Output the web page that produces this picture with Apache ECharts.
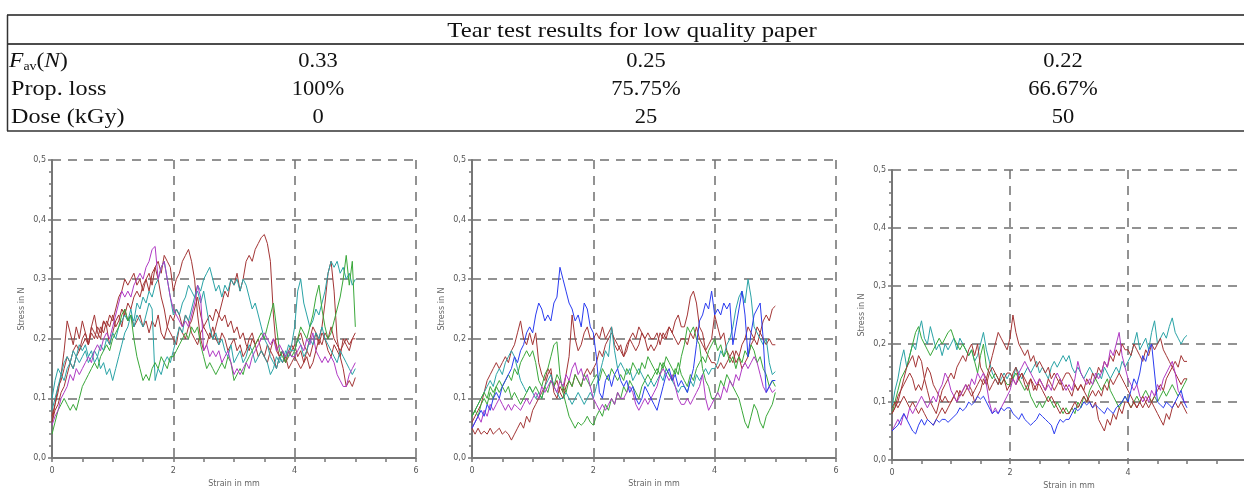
<!DOCTYPE html>
<html><head><meta charset="utf-8">
<script src="https://cdn.jsdelivr.net/npm/echarts@6/dist/echarts.min.js"></script>
<style>html,body{margin:0;padding:0;background:#fff}#c{width:1244px;height:489px}</style>
</head><body><div id="c"></div>
<script>
// ---------- Table data ----------
const tableTitle = 'Tear test results for low quality paper';
const rowLabels = ['F_av(N)', 'Prop. loss', 'Dose (kGy)'];
const fAv = ['0.33', '0.25', '0.22'];
const propLoss = ['100%', '75.75%', '66.67%'];
const dose = ['0', '25', '50'];

// ---------- Axis ticks ----------
const xTicks = [0, 2, 4, 6];
const yTicks = [0, 0.1, 0.2, 0.3, 0.4, 0.5];
const xName = 'Strain in mm';
const yName = 'Stress in N';
const STEP = 0.05; // strain sampling step (mm), curves sampled 0..5 mm

// ---------- Chart 1 (0 kGy) ----------
const c1BrownA = [0.07,0.09,0.11,0.14,0.18,0.23,0.21,0.19,0.22,0.20, 0.23,0.21,0.19,0.22,0.24,0.21,0.20,0.23,0.22,0.19, 0.21,0.23,0.24,0.22,0.25,0.23,0.24,0.22,0.23,0.24, 0.22,0.23,0.21,0.23,0.22,0.24,0.21,0.20,0.22,0.24, 0.23,0.25,0.24,0.22,0.24,0.23,0.21,0.20,0.19,0.21, 0.22,0.23,0.24,0.23,0.25,0.24,0.23,0.24,0.22,0.23, 0.21,0.22,0.20,0.21,0.19,0.18,0.20,0.19,0.17,0.18, 0.17,0.16,0.18,0.17,0.15,0.17,0.18,0.16,0.17,0.18, 0.19,0.17,0.18,0.16,0.17,0.15,0.16,0.18,0.20,0.19, 0.21,0.20,0.22,0.20,0.19,0.18,0.19,0.20,0.19,0.20, 0.21];
const c1BrownB = [0.06,0.08,0.09,0.11,0.12,0.14,0.16,0.15,0.17,0.18, 0.19,0.20,0.19,0.21,0.20,0.22,0.21,0.23,0.22,0.24, 0.23,0.25,0.27,0.28,0.30,0.29,0.30,0.31,0.29,0.30, 0.28,0.30,0.31,0.29,0.32,0.33,0.31,0.34,0.33,0.32, 0.28,0.30,0.31,0.33,0.34,0.35,0.33,0.30,0.24,0.20, 0.18,0.19,0.21,0.20,0.22,0.24,0.26,0.28,0.27,0.30, 0.29,0.31,0.28,0.30,0.33,0.34,0.33,0.35,0.36,0.37, 0.375,0.36,0.33,0.24,0.18,0.17,0.16,0.17,0.15,0.16, 0.17,0.16,0.15,0.16,0.18,0.17,0.19,0.21,0.20,0.22, 0.26,0.31,0.33,0.28,0.20,0.17,0.15,0.12,0.13,0.12, 0.135];
const c1BrownC = [0.06,0.09,0.12,0.13,0.15,0.17,0.16,0.18,0.19,0.18, 0.20,0.21,0.19,0.22,0.21,0.20,0.22,0.21,0.23,0.22, 0.24,0.22,0.23,0.25,0.24,0.26,0.25,0.27,0.28,0.27, 0.29,0.30,0.28,0.31,0.32,0.30,0.27,0.25,0.22,0.21, 0.20,0.19,0.22,0.21,0.20,0.22,0.23,0.25,0.27,0.24, 0.22,0.21,0.20,0.22,0.20,0.19,0.21,0.20,0.18,0.19, 0.20,0.18,0.19,0.17,0.18,0.20,0.21,0.19,0.20,0.18, 0.17,0.19,0.18,0.20,0.19,0.17,0.18,0.16,0.18,0.19, 0.18,0.20,0.21,0.19,0.18,0.20,0.22,0.21,0.19,0.21, 0.20,0.18,0.17,0.19,0.18,0.17,0.20,0.19,0.18,0.20, 0.20];
const c1TealA = [0.10,0.13,0.15,0.14,0.16,0.17,0.16,0.18,0.17,0.19, 0.18,0.19,0.17,0.18,0.16,0.17,0.15,0.16,0.14,0.15, 0.13,0.15,0.17,0.19,0.21,0.22,0.24,0.23,0.26,0.25, 0.27,0.26,0.28,0.27,0.29,0.30,0.32,0.33,0.30,0.27, 0.24,0.25,0.24,0.26,0.27,0.29,0.28,0.27,0.29,0.28, 0.30,0.31,0.32,0.30,0.28,0.29,0.27,0.29,0.28,0.30, 0.29,0.30,0.28,0.30,0.29,0.27,0.25,0.26,0.24,0.22, 0.20,0.19,0.17,0.16,0.15,0.17,0.16,0.18,0.17,0.19, 0.22,0.28,0.30,0.26,0.24,0.22,0.23,0.25,0.24,0.26, 0.28,0.31,0.33,0.32,0.33,0.31,0.32,0.30,0.31,0.29, 0.30];
const c1TealB = [0.08,0.10,0.12,0.14,0.13,0.15,0.16,0.15,0.17,0.16, 0.17,0.18,0.16,0.17,0.18,0.17,0.19,0.18,0.20,0.19, 0.21,0.20,0.22,0.23,0.24,0.23,0.25,0.22,0.24,0.23, 0.22,0.24,0.26,0.25,0.13,0.15,0.14,0.16,0.17,0.16, 0.18,0.20,0.22,0.21,0.24,0.23,0.25,0.27,0.28,0.26, 0.28,0.25,0.22,0.20,0.21,0.19,0.20,0.18,0.17,0.19, 0.16,0.17,0.18,0.16,0.17,0.19,0.18,0.16,0.17,0.18, 0.17,0.16,0.14,0.15,0.17,0.16,0.18,0.17,0.19,0.18, 0.18,0.20,0.19,0.17,0.18,0.20,0.19,0.21,0.20,0.22, 0.20,0.19,0.18,0.17,0.16,0.18,0.17,0.16,0.15,0.14, 0.15];
const c1Green = [0.04,0.06,0.08,0.09,0.10,0.09,0.08,0.09,0.08,0.10, 0.12,0.13,0.14,0.15,0.16,0.15,0.17,0.18,0.19,0.18, 0.20,0.21,0.22,0.24,0.25,0.23,0.24,0.20,0.17,0.15, 0.13,0.14,0.13,0.15,0.16,0.15,0.17,0.16,0.15,0.17, 0.17,0.18,0.19,0.20,0.21,0.20,0.22,0.21,0.22,0.19, 0.17,0.15,0.16,0.15,0.14,0.15,0.16,0.15,0.17,0.16, 0.13,0.14,0.15,0.14,0.16,0.17,0.18,0.19,0.20,0.21, 0.20,0.22,0.24,0.26,0.22,0.18,0.17,0.16,0.18,0.17, 0.18,0.20,0.22,0.21,0.20,0.22,0.24,0.27,0.29,0.25, 0.22,0.20,0.21,0.23,0.25,0.27,0.30,0.34,0.29,0.33, 0.22];
const c1Magenta = [0.055,0.07,0.08,0.10,0.11,0.12,0.14,0.13,0.15,0.14, 0.15,0.16,0.17,0.16,0.18,0.19,0.18,0.20,0.21,0.20, 0.22,0.24,0.26,0.28,0.27,0.28,0.27,0.29,0.30,0.31, 0.30,0.32,0.33,0.35,0.355,0.30,0.32,0.33,0.30,0.27, 0.25,0.24,0.23,0.22,0.23,0.22,0.24,0.26,0.29,0.27, 0.18,0.19,0.17,0.18,0.17,0.18,0.16,0.17,0.18,0.16, 0.14,0.15,0.14,0.15,0.16,0.15,0.17,0.18,0.19,0.20, 0.21,0.20,0.19,0.20,0.18,0.19,0.18,0.17,0.18,0.17, 0.17,0.18,0.19,0.18,0.20,0.19,0.21,0.18,0.17,0.16, 0.17,0.16,0.17,0.16,0.14,0.13,0.12,0.12,0.14,0.15, 0.16];

// ---------- Chart 2 (25 kGy) ----------
const c2Blue = [0.05,0.06,0.07,0.08,0.07,0.09,0.08,0.10,0.11,0.10, 0.12,0.13,0.14,0.15,0.17,0.16,0.18,0.19,0.21,0.22, 0.21,0.24,0.26,0.25,0.23,0.24,0.23,0.26,0.27,0.32, 0.30,0.28,0.26,0.25,0.23,0.24,0.22,0.26,0.25,0.22, 0.21,0.17,0.11,0.10,0.13,0.14,0.12,0.14,0.15,0.13, 0.12,0.13,0.11,0.12,0.10,0.09,0.10,0.12,0.11,0.10, 0.09,0.08,0.10,0.12,0.14,0.15,0.13,0.14,0.12,0.13, 0.12,0.11,0.13,0.15,0.19,0.23,0.24,0.26,0.25,0.28, 0.24,0.25,0.24,0.26,0.25,0.26,0.19,0.22,0.25,0.28, 0.24,0.17,0.21,0.24,0.25,0.26,0.20,0.11,0.12,0.13, 0.13];
const c2BrownA = [0.05,0.04,0.05,0.04,0.045,0.04,0.05,0.04,0.045,0.05, 0.04,0.045,0.04,0.03,0.04,0.05,0.06,0.05,0.07,0.06, 0.08,0.09,0.10,0.11,0.12,0.14,0.15,0.11,0.10,0.12, 0.11,0.14,0.17,0.24,0.20,0.18,0.19,0.21,0.22,0.20, 0.20,0.21,0.20,0.22,0.20,0.21,0.22,0.19,0.18,0.19, 0.17,0.19,0.20,0.21,0.20,0.22,0.21,0.20,0.21,0.20, 0.20,0.21,0.19,0.21,0.20,0.22,0.21,0.23,0.24,0.22, 0.22,0.24,0.27,0.28,0.26,0.22,0.21,0.18,0.19,0.20, 0.24,0.22,0.20,0.21,0.18,0.17,0.18,0.16,0.17,0.15, 0.16,0.17,0.19,0.20,0.22,0.21,0.23,0.24,0.23,0.25, 0.255];
const c2BrownB = [0.06,0.07,0.08,0.09,0.11,0.13,0.14,0.15,0.16,0.15, 0.16,0.17,0.16,0.18,0.19,0.21,0.23,0.20,0.19,0.21, 0.19,0.21,0.16,0.14,0.13,0.15,0.14,0.12,0.13,0.11, 0.10,0.12,0.13,0.12,0.14,0.13,0.12,0.14,0.15,0.14, 0.15,0.16,0.18,0.17,0.19,0.20,0.21,0.20,0.19,0.18, 0.17,0.18,0.20,0.19,0.18,0.19,0.21,0.20,0.18,0.19, 0.18,0.19,0.21,0.20,0.21,0.22,0.21,0.20,0.19,0.20, 0.20,0.19,0.21,0.20,0.22,0.20,0.19,0.18,0.17,0.16, 0.16,0.15,0.16,0.15,0.16,0.17,0.16,0.18,0.17,0.19, 0.20,0.22,0.21,0.20,0.19,0.21,0.20,0.19,0.20,0.19, 0.19];
const c2Teal = [0.07,0.08,0.09,0.10,0.11,0.12,0.13,0.12,0.14,0.15, 0.14,0.16,0.17,0.18,0.17,0.15,0.13,0.12,0.11,0.12, 0.11,0.10,0.11,0.10,0.12,0.13,0.14,0.12,0.11,0.10, 0.10,0.11,0.10,0.09,0.10,0.11,0.10,0.09,0.10,0.11, 0.10,0.12,0.14,0.16,0.18,0.17,0.22,0.18,0.15,0.16, 0.15,0.14,0.15,0.13,0.14,0.15,0.14,0.13,0.12,0.13, 0.12,0.13,0.14,0.13,0.15,0.14,0.13,0.12,0.11,0.12, 0.12,0.11,0.13,0.12,0.14,0.13,0.14,0.15,0.14,0.15, 0.15,0.16,0.18,0.17,0.19,0.20,0.22,0.25,0.27,0.28, 0.26,0.30,0.27,0.22,0.21,0.20,0.19,0.20,0.16,0.14, 0.145];
const c2GreenA = [0.07,0.08,0.09,0.10,0.11,0.10,0.12,0.11,0.12,0.13, 0.12,0.13,0.14,0.13,0.15,0.14,0.16,0.17,0.18,0.17, 0.18,0.16,0.13,0.12,0.14,0.15,0.17,0.19,0.195,0.14, 0.11,0.09,0.07,0.06,0.05,0.06,0.055,0.06,0.07,0.06, 0.055,0.07,0.08,0.07,0.09,0.08,0.10,0.09,0.11,0.10, 0.12,0.11,0.13,0.12,0.11,0.10,0.12,0.13,0.14,0.13, 0.14,0.15,0.14,0.16,0.15,0.14,0.13,0.15,0.14,0.17, 0.19,0.22,0.21,0.22,0.20,0.19,0.15,0.13,0.12,0.10, 0.10,0.11,0.13,0.12,0.14,0.13,0.12,0.11,0.10,0.08, 0.06,0.05,0.07,0.09,0.08,0.06,0.05,0.07,0.08,0.09, 0.11];
const c2GreenB = [0.07,0.08,0.07,0.09,0.10,0.09,0.11,0.10,0.12,0.11, 0.12,0.11,0.12,0.10,0.11,0.10,0.09,0.10,0.11,0.12, 0.11,0.12,0.11,0.10,0.12,0.11,0.13,0.12,0.14,0.13, 0.12,0.11,0.13,0.12,0.14,0.13,0.12,0.14,0.13,0.12, 0.13,0.14,0.13,0.15,0.14,0.13,0.15,0.14,0.13,0.14, 0.13,0.15,0.14,0.16,0.15,0.14,0.16,0.15,0.17,0.16, 0.15,0.14,0.16,0.15,0.17,0.16,0.15,0.14,0.16,0.14, 0.13,0.12,0.14,0.13,0.15,0.16,0.17,0.16,0.18,0.19, 0.20,0.18,0.19,0.17,0.18,0.16,0.17,0.15,0.17,0.16, 0.18,0.17,0.19,0.18,0.16,0.17,0.15,0.14,0.12,0.13, 0.12];
const c2Magenta = [0.05,0.06,0.07,0.06,0.08,0.07,0.09,0.08,0.09,0.10, 0.09,0.08,0.09,0.08,0.09,0.085,0.08,0.09,0.10,0.09, 0.10,0.11,0.10,0.12,0.11,0.12,0.13,0.12,0.11,0.13, 0.12,0.14,0.13,0.15,0.16,0.14,0.15,0.13,0.14,0.12, 0.10,0.09,0.08,0.09,0.08,0.09,0.10,0.09,0.11,0.10, 0.10,0.11,0.12,0.11,0.09,0.08,0.09,0.10,0.09,0.10, 0.11,0.12,0.14,0.15,0.14,0.13,0.14,0.12,0.10,0.09, 0.09,0.10,0.09,0.10,0.11,0.12,0.14,0.10,0.08,0.09, 0.10,0.11,0.10,0.12,0.11,0.13,0.12,0.14,0.13,0.15, 0.16,0.15,0.16,0.17,0.16,0.14,0.12,0.11,0.12,0.11, 0.115];

// ---------- Chart 3 (50 kGy) ----------
const c3Teal = [0.09,0.12,0.14,0.17,0.19,0.16,0.18,0.20,0.19,0.22, 0.24,0.21,0.20,0.23,0.21,0.19,0.20,0.18,0.20,0.19, 0.20,0.21,0.19,0.21,0.20,0.19,0.18,0.19,0.17,0.18, 0.20,0.22,0.19,0.17,0.15,0.14,0.13,0.14,0.15,0.14, 0.15,0.14,0.16,0.15,0.14,0.15,0.16,0.15,0.16,0.17, 0.15,0.16,0.15,0.14,0.16,0.17,0.16,0.17,0.18,0.17, 0.18,0.16,0.15,0.16,0.15,0.14,0.15,0.16,0.15,0.14, 0.15,0.14,0.16,0.15,0.14,0.15,0.16,0.15,0.17,0.16, 0.17,0.18,0.20,0.22,0.19,0.20,0.21,0.19,0.22,0.24, 0.20,0.21,0.22,0.21,0.23,0.245,0.22,0.21,0.20,0.21, 0.215];
const c3Green = [0.08,0.10,0.12,0.14,0.15,0.16,0.18,0.20,0.22,0.23, 0.21,0.20,0.19,0.18,0.19,0.20,0.21,0.20,0.21,0.22, 0.225,0.21,0.20,0.19,0.20,0.19,0.18,0.19,0.17,0.15, 0.18,0.20,0.16,0.15,0.14,0.15,0.14,0.13,0.14,0.13, 0.13,0.14,0.15,0.14,0.13,0.12,0.13,0.11,0.10,0.09, 0.10,0.09,0.10,0.11,0.10,0.09,0.10,0.09,0.08,0.09, 0.08,0.09,0.08,0.10,0.09,0.11,0.10,0.12,0.13,0.14, 0.13,0.12,0.13,0.14,0.12,0.11,0.10,0.09,0.10,0.11, 0.10,0.09,0.10,0.11,0.10,0.11,0.12,0.11,0.10,0.11, 0.10,0.11,0.12,0.11,0.12,0.13,0.12,0.11,0.12,0.13, 0.14];
const c3BrownA = [0.08,0.09,0.10,0.12,0.14,0.16,0.17,0.18,0.16,0.18, 0.17,0.14,0.12,0.10,0.09,0.08,0.10,0.12,0.13,0.14, 0.15,0.14,0.16,0.17,0.18,0.17,0.19,0.20,0.18,0.20, 0.16,0.15,0.14,0.16,0.18,0.20,0.22,0.21,0.20,0.19, 0.21,0.25,0.22,0.20,0.19,0.18,0.19,0.17,0.18,0.16, 0.17,0.16,0.15,0.16,0.14,0.15,0.14,0.13,0.14,0.15, 0.15,0.14,0.13,0.12,0.13,0.12,0.14,0.13,0.15,0.14, 0.16,0.15,0.17,0.16,0.18,0.17,0.19,0.18,0.20,0.19, 0.19,0.18,0.20,0.19,0.18,0.17,0.19,0.18,0.20,0.19, 0.20,0.21,0.19,0.18,0.17,0.16,0.17,0.16,0.18,0.17, 0.17];
const c3BrownB = [0.08,0.09,0.11,0.12,0.13,0.14,0.15,0.14,0.12,0.13, 0.12,0.14,0.16,0.15,0.13,0.12,0.11,0.10,0.11,0.10, 0.10,0.11,0.12,0.11,0.12,0.13,0.12,0.11,0.12,0.13, 0.14,0.13,0.14,0.12,0.13,0.14,0.13,0.15,0.14,0.15, 0.15,0.14,0.13,0.14,0.15,0.13,0.12,0.14,0.13,0.12, 0.14,0.13,0.12,0.14,0.13,0.12,0.13,0.14,0.12,0.13, 0.12,0.11,0.13,0.12,0.13,0.12,0.11,0.10,0.09,0.10, 0.07,0.06,0.05,0.07,0.06,0.08,0.07,0.09,0.08,0.10, 0.10,0.09,0.10,0.09,0.10,0.11,0.10,0.09,0.10,0.09, 0.08,0.07,0.06,0.08,0.07,0.09,0.10,0.09,0.10,0.09, 0.08];
const c3BrownC = [0.09,0.10,0.09,0.10,0.11,0.10,0.09,0.10,0.09,0.08, 0.09,0.08,0.07,0.065,0.06,0.07,0.08,0.09,0.08,0.09, 0.10,0.11,0.10,0.12,0.11,0.12,0.13,0.12,0.10,0.11, 0.12,0.14,0.13,0.15,0.16,0.15,0.14,0.13,0.14,0.12, 0.13,0.15,0.16,0.14,0.15,0.14,0.13,0.14,0.12,0.13, 0.13,0.12,0.11,0.10,0.11,0.10,0.09,0.08,0.09,0.08, 0.08,0.09,0.10,0.09,0.10,0.11,0.10,0.11,0.12,0.11, 0.12,0.11,0.13,0.12,0.14,0.13,0.14,0.15,0.14,0.13, 0.12,0.11,0.10,0.09,0.10,0.09,0.10,0.11,0.10,0.11, 0.12,0.13,0.12,0.14,0.15,0.16,0.15,0.14,0.13,0.14, 0.14];
const c3Magenta = [0.05,0.06,0.07,0.06,0.08,0.07,0.09,0.08,0.09,0.10, 0.11,0.10,0.09,0.10,0.11,0.10,0.12,0.13,0.15,0.14, 0.12,0.11,0.10,0.11,0.12,0.13,0.12,0.14,0.13,0.15, 0.14,0.15,0.13,0.10,0.08,0.09,0.08,0.09,0.10,0.11, 0.12,0.14,0.13,0.15,0.16,0.17,0.16,0.15,0.14,0.13, 0.14,0.13,0.12,0.13,0.12,0.14,0.15,0.14,0.13,0.12, 0.13,0.12,0.14,0.17,0.15,0.14,0.13,0.14,0.13,0.15, 0.14,0.15,0.17,0.16,0.19,0.18,0.20,0.22,0.18,0.16, 0.14,0.13,0.12,0.13,0.11,0.10,0.11,0.10,0.12,0.11, 0.13,0.12,0.14,0.15,0.16,0.17,0.15,0.12,0.11,0.10, 0.10];
const c3Blue = [0.05,0.055,0.06,0.07,0.08,0.07,0.06,0.05,0.045,0.06, 0.07,0.06,0.07,0.065,0.06,0.07,0.065,0.07,0.07,0.065, 0.07,0.075,0.08,0.09,0.085,0.09,0.10,0.095,0.10,0.11, 0.105,0.11,0.10,0.09,0.08,0.085,0.08,0.09,0.085,0.09, 0.09,0.08,0.075,0.07,0.08,0.07,0.065,0.06,0.065,0.07, 0.08,0.075,0.07,0.065,0.06,0.045,0.06,0.07,0.065,0.07, 0.07,0.08,0.09,0.085,0.09,0.10,0.095,0.10,0.09,0.095, 0.09,0.085,0.08,0.09,0.085,0.08,0.09,0.095,0.10,0.11, 0.10,0.12,0.14,0.13,0.15,0.18,0.17,0.19,0.20,0.15, 0.10,0.095,0.09,0.10,0.095,0.09,0.10,0.11,0.12,0.10, 0.09];

const BROWN = '#a33535', TEAL = '#2aa3a6', GREEN = '#3aa83a', MAGENTA = '#b03ac4', BLUE = '#2b3cf0';

const charts = [
  [[c1BrownA, BROWN], [c1BrownB, BROWN], [c1BrownC, BROWN], [c1TealA, TEAL], [c1TealB, TEAL], [c1Green, GREEN], [c1Magenta, MAGENTA]],
  [[c2BrownA, BROWN], [c2BrownB, BROWN], [c2Teal, TEAL], [c2GreenA, GREEN], [c2GreenB, GREEN], [c2Magenta, MAGENTA], [c2Blue, BLUE]],
  [[c3Teal, TEAL], [c3Green, GREEN], [c3BrownA, BROWN], [c3BrownB, BROWN], [c3BrownC, BROWN], [c3Magenta, MAGENTA], [c3Blue, BLUE]]
];

const grids = [
  {left: 52, top: 160, width: 364, height: 298, outerBoundsMode: 'none', containLabel: false},
  {left: 472, top: 160, width: 364, height: 298, outerBoundsMode: 'none', containLabel: false},
  {left: 892, top: 170, width: 354, height: 290, outerBoundsMode: 'none', containLabel: false}
];

const AX = '#777';
const labelStyle = {fontFamily: 'DejaVu Sans', fontSize: 8, color: '#555'};
const nameStyle = {fontFamily: 'DejaVu Sans', fontSize: 8, color: '#666'};
const split = {show: true, lineStyle: {color: '#6f6f6f', width: 1.5, type: [9, 7]}};
const tickLine = {color: AX, width: 1.5};

const xAxes = [], yAxes = [];
grids.forEach((g, i) => {
  // main axes: line, labels, names, grid lines, outward ticks
  xAxes.push({
    type: 'value', gridIndex: i, min: xTicks[0], max: xTicks[xTicks.length - 1], interval: 2,
    name: xName, nameLocation: 'middle', nameGap: 22, nameTextStyle: nameStyle,
    axisLine: {show: true, lineStyle: {color: AX, width: 2}},
    axisTick: {show: true, length: 4, lineStyle: tickLine},
    minorTick: {show: false},
    axisLabel: Object.assign({margin: 9}, labelStyle),
    splitLine: split
  });
  yAxes.push({
    type: 'value', gridIndex: i, min: yTicks[0], max: yTicks[yTicks.length - 1], interval: 0.1,
    name: yName, nameLocation: 'middle', nameGap: 26, nameRotate: 90, nameTextStyle: nameStyle,
    axisLine: {show: true, lineStyle: {color: AX, width: 2}},
    axisTick: {show: true, length: 4, lineStyle: tickLine},
    minorTick: {show: true, splitNumber: 5, length: 3, lineStyle: tickLine},
    axisLabel: Object.assign({margin: 6, formatter: v => v.toFixed(1).replace('.', ',')}, labelStyle),
    splitLine: split
  });
});
grids.forEach((g, i) => {
  // overlay axes: inward ticks only
  xAxes.push({
    type: 'value', gridIndex: i, min: xTicks[0], max: xTicks[xTicks.length - 1], interval: 2,
    axisLine: {show: false}, axisLabel: {show: false}, splitLine: {show: false},
    axisTick: {show: true, inside: true, length: 0.01, lineStyle: tickLine},
    minorTick: {show: true, splitNumber: 4, length: 4, lineStyle: tickLine}
  });
  yAxes.push({
    type: 'value', gridIndex: i, min: yTicks[0], max: yTicks[yTicks.length - 1], interval: 0.1,
    axisLine: {show: false}, axisLabel: {show: false}, splitLine: {show: false},
    axisTick: {show: true, inside: true, length: 4, lineStyle: tickLine},
    minorTick: {show: true, splitNumber: 5, length: 3, lineStyle: tickLine}
  });
});

const series = [];
charts.forEach((curves, ci) => {
  curves.forEach(([vals, color]) => {
    series.push({
      type: 'line', xAxisIndex: ci, yAxisIndex: ci, showSymbol: false, symbol: 'none',
      animation: false, z: 3,
      lineStyle: {color, width: 1},
      data: vals.map((v, i) => [+(i * STEP).toFixed(2), v])
    });
  });
});

// ---------- Table drawn as graphic text/lines ----------
const SERIF = 'Liberation Serif';
const colX = [318, 646, 1063];
const rowY = [61, 89, 117];
const txt = (x, y, text, align, size, sx) => ({
  type: 'text', x, y, scaleX: sx || 1.07, originX: 0, originY: 0,
  style: {text, fontFamily: SERIF, fontSize: size || 21, fill: '#111', align: align || 'center', verticalAlign: 'middle'}
});
const hline = (y, w, c) => ({type: 'line', shape: {x1: 7, y1: y, x2: 1244, y2: y}, style: {stroke: c, lineWidth: w}});
const graphic = [
  hline(15, 2, '#555'), hline(44, 1.5, '#111'), hline(131, 2, '#666'),
  {type: 'line', shape: {x1: 7.5, y1: 15, x2: 7.5, y2: 131}, style: {stroke: '#333', lineWidth: 1.5}},
  txt(632, 31, tableTitle, 'center', 22, 1.125),
  {
    type: 'text', x: 9, y: rowY[0], scaleX: 1.07,
    style: {
      text: '{i|F}{s|av}{r|(}{i|N}{r|)}', verticalAlign: 'middle', align: 'left',
      rich: {
        i: {fontFamily: SERIF, fontSize: 22, fontStyle: 'italic', fill: '#111', lineHeight: 24},
        r: {fontFamily: SERIF, fontSize: 22, fill: '#111', lineHeight: 24},
        s: {fontFamily: SERIF, fontSize: 13, fill: '#111', lineHeight: 24, verticalAlign: 'bottom'}
      }
    }
  },
  txt(11, rowY[1], rowLabels[1], 'left', 22, 1.1),
  txt(11, rowY[2], rowLabels[2], 'left', 22, 1.1)
];
[fAv, propLoss, dose].forEach((row, r) => row.forEach((t, c) => graphic.push(txt(colX[c], rowY[r], t))));

const chart = echarts.init(document.getElementById('c'), null, {renderer: 'canvas'});
chart.setOption({
  animation: false,
  backgroundColor: '#fff',
  grid: grids,
  xAxis: xAxes,
  yAxis: yAxes,
  series,
  graphic
});
</script></body></html>
